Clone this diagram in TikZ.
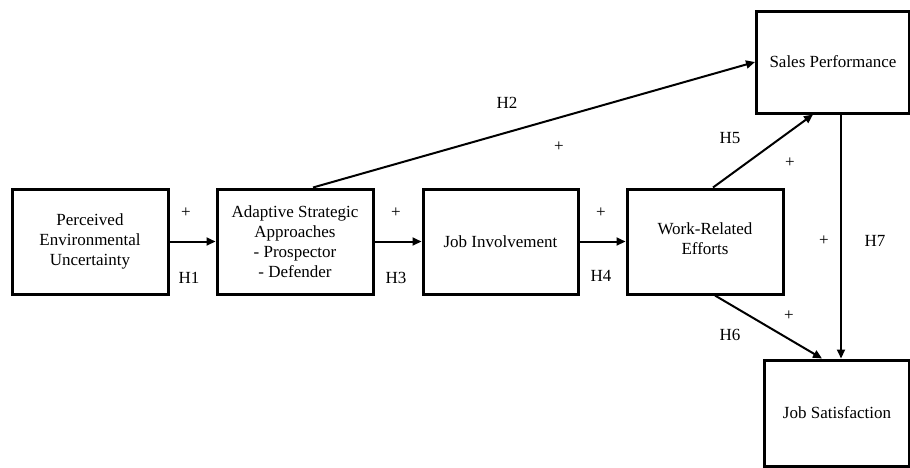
\documentclass[tikz,border=0pt]{standalone}
\usepackage{fontspec}
\setmainfont{Liberation Serif}
\usetikzlibrary{arrows.meta,calc}
\begin{document}
\begin{tikzpicture}[x=1pt,y=-1pt,
  box/.style={draw,line width=3pt,align=center,inner sep=0pt,
    font=\fontsize{17}{20}\selectfont},
  arr/.style={line width=2pt,-{Triangle[length=9pt,width=8pt]}},
  lab/.style={font=\fontsize{17}{20}\selectfont,inner sep=0pt},
  plus/.style={font=\fontsize{17}{20}\selectfont,inner sep=0pt}]
\useasboundingbox (0,0) rectangle (910,467);
\node[box,minimum width=156pt,minimum height=105pt] (b1) at (90,241.5) {Perceived\\Environmental\\Uncertainty};
\node[box,minimum width=156pt,minimum height=105pt] (b2) at (295,241.5) {Adaptive Strategic\\Approaches\\- Prospector\\- Defender};
\node[box,minimum width=155pt,minimum height=105pt] (b3) at (500.5,241.5) {Job Involvement};
\node[box,minimum width=156pt,minimum height=105pt,text depth=6pt] (b4) at (705,241.5) {Work-Related\\Efforts};
\node[box,minimum width=153pt,minimum height=102pt] (sp) at (833,62) {Sales Performance};
\node[box,minimum width=145.5pt,minimum height=106pt] (js) at (837,413) {Job Satisfaction};
\draw[arr] (b1.east) -- (b2.west);
\draw[arr] (b2.east) -- (b3.west);
\draw[arr] (b3.east) -- (b4.west);
\draw[arr] ($(b2.north)+(18,0)$) -- (sp.west);
\draw[arr] ($(b4.north)+(8,0)$) -- ($(sp.south)+(-20,0)$);
\coordinate (h7s) at ($(sp.south)+(8,0)$);
\draw[arr] (h7s) -- (h7s |- js.north);
\draw[arr] ($(b4.south)+(10,0)$) -- ($(js.north)+(-15,0)$);
\node[plus] (p1) at (186,213) {+};
\node[lab] (h1) at (189,278) {H1};
\node[plus] (p3) at (396,213) {+};
\node[lab] (h3) at (396,278) {H3};
\node[plus] (p4) at (601,213) {+};
\node[lab] (h4) at (601,276) {H4};
\node[lab] (h2) at (507,103) {H2};
\node[plus] (p2) at (559,147) {+};
\node[lab] (h5) at (730,138) {H5};
\node[plus] (p5) at (790,163) {+};
\node[plus] (p7) at (824,241) {+};
\node[lab] (h7) at (875,241) {H7};
\node[lab] (h6) at (730,335) {H6};
\node[plus] (p6) at (789,316) {+};
\end{tikzpicture}
\end{document}
